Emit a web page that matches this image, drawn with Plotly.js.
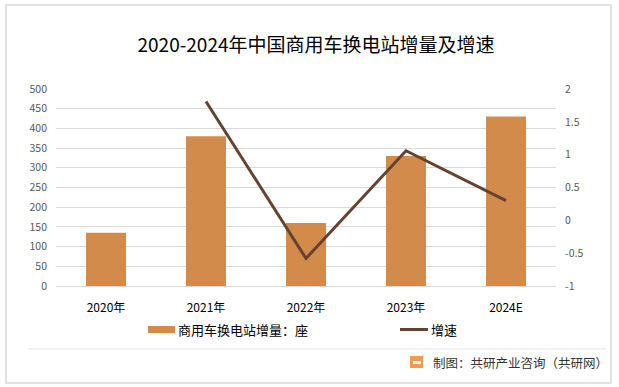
<!DOCTYPE html>
<html>
<head>
<meta charset="utf-8">
<script src="https://cdn.plot.ly/plotly-3.0.1.min.js"></script>
<style>
html,body{margin:0;padding:0;background:#fff;}
#chart{width:619px;height:387px;}
</style>
</head>
<body>
<div id="chart"></div>
<script>
const categories = ["2020年", "2021年", "2022年", "2023年", "2024E"];
const stationIncrease = [135, 380, 160, 330, 430];
const growthCategories = ["2021年", "2022年", "2023年", "2024E"];
const growthRate = [1.81, -0.58, 1.06, 0.30];
const rightTickVals = [-1, -0.5, 0, 0.5, 1, 1.5, 2];
const rightTickText = ["-1", "-0.5", "0", "0.5", "1", "1.5", "2"];
const barName = "商用车换电站增量：座";
const lineName = "增速";
const titleText = "2020-2024年中国商用车换电站增量及增速";
const sourceText = "制图：共研产业咨询（共研网）";

const FONT = '"Noto Sans CJK SC", "Microsoft YaHei", sans-serif';
const BAR_COLOR = '#D38B4C';
const LINE_COLOR = '#654330';

// plot domain pixels: x 56..556, y 89..286
const px = x => (x - 56) / 500;
const py = y => (286 - y) / 197;

const traces = [
  {
    type: 'bar', x: categories, y: stationIncrease, name: barName,
    marker: {color: BAR_COLOR}, width: 0.4, yaxis: 'y', showlegend: false,
    hoverinfo: 'x+y'
  },
  {
    type: 'scatter', mode: 'lines', x: growthCategories, y: growthRate, name: lineName,
    line: {color: LINE_COLOR, width: 3}, yaxis: 'y2', showlegend: false
  }
];

const layout = {
  width: 619, height: 387,
  margin: {l: 56, r: 63, t: 89, b: 101},
  paper_bgcolor: '#fff', plot_bgcolor: '#fff',
  font: {family: FONT, color: '#595959', size: 11},
  title: {
    text: titleText, x: 316/619, xanchor: 'center', xref: 'container',
    y: 1 - 45/387, yanchor: 'middle', yref: 'container',
    font: {family: FONT, size: 19, color: '#000'}
  },
  bargap: 0.6,
  xaxis: {
    type: 'category', categoryorder: 'array', categoryarray: categories,
    showgrid: false, showline: false, zeroline: false, ticks: '',
    tickfont: {family: FONT, size: 12, color: '#000'},
    ticklabelstandoff: 13, fixedrange: true
  },
  yaxis: {
    range: [0, 500], dtick: 50, tick0: 0,
    showgrid: true, gridcolor: '#D9D9D9', gridwidth: 1,
    zeroline: true, zerolinecolor: '#D9D9D9', showline: false, ticks: '',
    tickfont: {family: FONT, size: 10.5, color: '#595959'},
    ticklabelstandoff: 8, fixedrange: true
  },
  yaxis2: {
    range: [-1, 2], tickmode: 'array', tickvals: rightTickVals, ticktext: rightTickText,
    overlaying: 'y', side: 'right',
    showgrid: false, zeroline: false, showline: false, ticks: '',
    tickfont: {family: FONT, size: 10.5, color: '#595959'},
    ticklabelstandoff: 8, fixedrange: true
  },
  shapes: [
    {type: 'rect', xref: 'paper', yref: 'paper', x0: px(6), x1: px(611), y0: py(383), y1: py(5),
     line: {color: '#D9D9D9', width: 1.5}, fillcolor: 'rgba(0,0,0,0)', layer: 'below'},
    {type: 'line', xref: 'paper', yref: 'paper', x0: px(28), x1: px(607), y0: py(349), y1: py(349),
     line: {color: '#E3E3E3', width: 1}},
    {type: 'rect', xref: 'paper', yref: 'paper', x0: px(148), x1: px(175), y0: py(333), y1: py(326),
     line: {width: 0}, fillcolor: BAR_COLOR},
    {type: 'line', xref: 'paper', yref: 'paper', x0: px(400), x1: px(428), y0: py(329.5), y1: py(329.5),
     line: {color: LINE_COLOR, width: 3}},
    {type: 'rect', xref: 'paper', yref: 'paper', x0: px(410), x1: px(423), y0: py(368), y1: py(356),
     line: {width: 0}, fillcolor: '#F29A50'},
    {type: 'rect', xref: 'paper', yref: 'paper', x0: px(413), x1: px(421), y0: py(364), y1: py(361),
     line: {width: 0}, fillcolor: '#FFFFFF'}
  ],
  annotations: [
    {xref: 'paper', yref: 'paper', x: px(176), y: py(329.5), xanchor: 'left', yanchor: 'middle',
     text: barName, showarrow: false, font: {family: FONT, size: 13, color: '#000'}},
    {xref: 'paper', yref: 'paper', x: px(429), y: py(329.5), xanchor: 'left', yanchor: 'middle',
     text: lineName, showarrow: false, font: {family: FONT, size: 13, color: '#000'}},
    {xref: 'paper', yref: 'paper', x: px(431), y: py(362), xanchor: 'left', yanchor: 'middle',
     text: sourceText, showarrow: false, font: {family: FONT, size: 12.5, color: '#333'}}
  ]
};

Plotly.newPlot('chart', traces, layout, {displayModeBar: false, staticPlot: true});
</script>
</body>
</html>
